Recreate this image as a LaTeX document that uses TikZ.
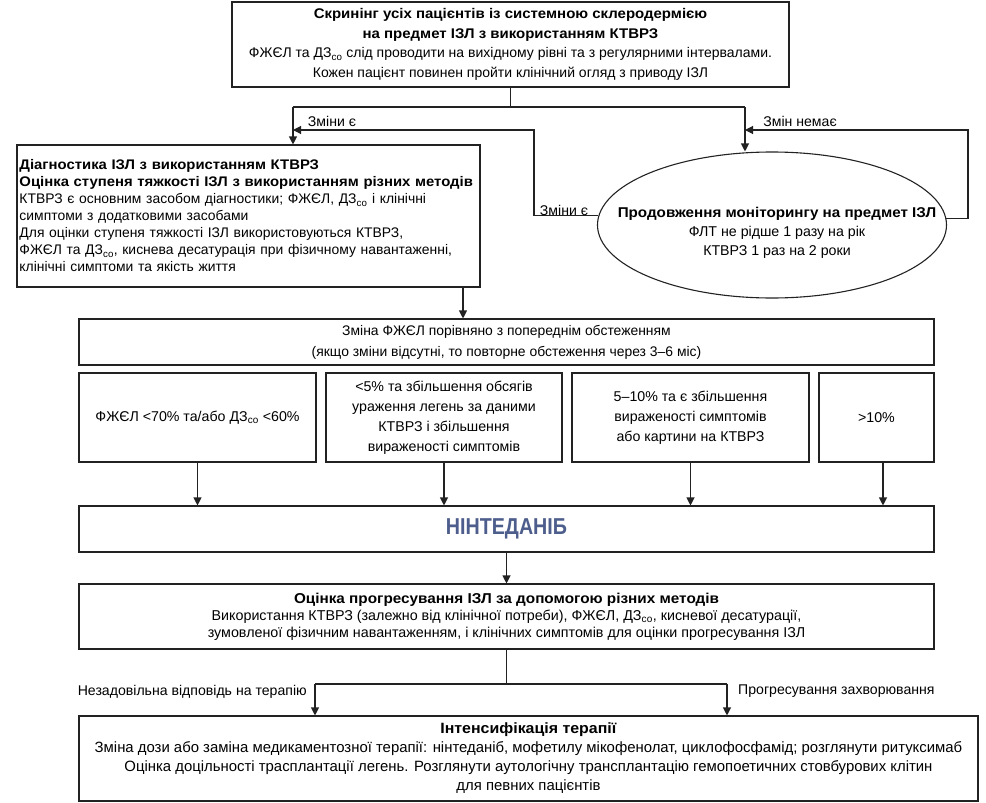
\documentclass[tikz,border=0pt]{standalone}
\usepackage{fontspec}
\setmainfont{Liberation Sans}[BoldFeatures={FakeStretch=1.07}]
\usetikzlibrary{arrows.meta,shapes.geometric}
\definecolor{nblue}{HTML}{4E5E8C}
\definecolor{edge}{HTML}{222222}
\begin{document}
\begin{tikzpicture}[x=1pt,y=-1pt,
  box/.style={draw=edge,line width=1.1pt,rectangle,inner sep=0pt,align=center,font=\fontsize{14.2}{17}\selectfont},
  arr/.style={-{Triangle[length=8pt,width=8pt]},line width=1.1pt,draw=edge},
  ln/.style={line width=1.1pt,draw=edge},
  lbl/.style={inner sep=0pt,font=\fontsize{14.1}{17}\selectfont}]
\useasboundingbox (0,0) rectangle (986,803);

% boxes
\node[box,minimum width=557pt,minimum height=85pt,font=\fontsize{14}{19.5}\selectfont] (top) at (510.5,44.5)
 {\textbf{Скринінг усіх пацієнтів із системною склеродермією}\\
  \textbf{на предмет ІЗЛ з використанням КТВРЗ}\\
  ФЖЄЛ та ДЗ\textsubscript{со} слід проводити на вихідному рівні та з регулярними інтервалами.\\
  Кожен пацієнт повинен пройти клінічний огляд з приводу ІЗЛ};

\node[box,text width=458pt,inner xsep=2.5pt,align=left,minimum height=142pt,font=\fontsize{13.9}{17}\selectfont] (diag) at (248.5,216)
 {\textbf{Діагностика ІЗЛ з використанням КТВРЗ}\\
  \textbf{Оцінка ступеня тяжкості ІЗЛ з використанням різних методів}\\
  КТВРЗ є основним засобом діагностики; ФЖЄЛ, ДЗ\textsubscript{со} і клінічні\\
  симптоми з додатковими засобами\\
  Для оцінки ступеня тяжкості ІЗЛ використовуються КТВРЗ,\\
  ФЖЄЛ та ДЗ\textsubscript{со}, киснева десатурація при фізичному навантаженні,\\
  клінічні симптоми та якість життя};

\node[draw=edge,line width=1.1pt,ellipse,inner sep=0pt,minimum width=349pt,minimum height=146pt] (ell) at (772,225) {};
\node[lbl,align=center,font=\fontsize{14.2}{19}\selectfont] (ellt) at (777,233)
 {\textbf{Продовження моніторингу на предмет ІЗЛ}\\
  ФЛТ не рідше 1 разу на рік\\
  КТВРЗ 1 раз на 2 роки};

\node[box,minimum width=855pt,minimum height=46pt,font=\fontsize{13.9}{21}\selectfont] (cmp) at (506.5,342)
 {Зміна ФЖЄЛ порівняно з попереднім обстеженням\\
  (якщо зміни відсутні, то повторне обстеження через 3–6 міс)};

\node[box,minimum width=237pt,minimum height=89pt] (c1) at (197.5,417.5)
 {ФЖЄЛ <70\% та/або ДЗ\textsubscript{со} <60\%};
\node[box,minimum width=236pt,minimum height=89pt,font=\fontsize{14.2}{20}\selectfont] (c2) at (444,417.5)
 {<5\% та збільшення обсягів\\ураження легень за даними\\КТВРЗ і збільшення\\вираженості симптомів};
\node[box,minimum width=237pt,minimum height=89pt,font=\fontsize{14.2}{20}\selectfont] (c3) at (690.5,417.5)
 {5–10\% та є збільшення\\вираженості симптомів\\або картини на КТВРЗ};
\node[box,minimum width=115pt,minimum height=89pt] (c4) at (876.5,417.5) {>10\%};

\node[box,minimum width=855pt,minimum height=46pt,text=nblue,font=\fontsize{23}{26}\selectfont] (nint) at (506.5,529)
 {\scalebox{0.8}[1]{\bfseries НІНТЕДАНІБ}};

\node[box,minimum width=855pt,minimum height=65pt,font=\fontsize{14.3}{17}\selectfont] (prog) at (506.5,616.5)
 {\textbf{Оцінка прогресування ІЗЛ за допомогою різних методів}\\
  Використання КТВРЗ (залежно від клінічної потреби), ФЖЄЛ, ДЗ\textsubscript{со}, кисневої десатурації,\\
  зумовленої фізичним навантаженням, і клінічних симптомів для оцінки прогресування ІЗЛ};

\node[box,minimum width=899pt,minimum height=85pt,font=\fontsize{14.9}{19}\selectfont] (inten) at (528.5,758.5)
 {\textbf{Інтенсифікація терапії}\\
  Зміна дози або заміна медикаментозної терапії: нінтеданіб, мофетилу мікофенолат, циклофосфамід; розглянути ритуксимаб\\
  Оцінка доцільності трасплантації легень. Розглянути аутологічну трансплантацію гемопоетичних стовбурових клітин\\
  для певних пацієнтів};

% coordinates
\coordinate (jL) at (293,107);
\coordinate (jR) at (745,107);
\coordinate (r1) at (534,130);
\coordinate (r2) at (968,130);
\coordinate (dx) at (463,0);
\coordinate (c4x) at (883,0);
\coordinate (bL) at (315,684);
\coordinate (bR) at (727,684);

% connectors
\draw[ln] (top.south) -- (top.south |- jL);
\draw[ln] (jL) -- (jR);
\draw[arr] (jL) -- (jL |- diag.north);
\draw[arr] (jR) -- (jR |- ell.north);
\draw[arr] (ell.177.4) -| (r1) -- (r1 -| jL);
\draw[arr] (ell.2.6) -| (r2) -- (r2 -| jR);
\draw[arr] (diag.south -| dx) -- (cmp.north -| dx);
\draw[arr] (c1.south) -- (c1.south |- nint.north);
\draw[arr] (c2.south) -- (c2.south |- nint.north);
\draw[arr] (c3.south) -- (c3.south |- nint.north);
\draw[arr] (c4.south -| c4x) -- (nint.north -| c4x);
\draw[arr] (nint.south) -- (prog.north);
\draw[ln] (prog.south) -- (prog.south |- bL);
\draw[ln] (bL) -- (bR);
\draw[arr] (bL) -- (bL |- inten.north);
\draw[arr] (bR) -- (bR |- inten.north);

% labels
\node[lbl] (l1) at (332,121) {Зміни є};
\node[lbl] (l2) at (800,121) {Змін немає};
\node[lbl] (l3) at (564,210) {Зміни є};
\node[lbl,anchor=east] (l4) at (307,692) {Незадовільна відповідь на терапію};
\node[lbl,anchor=west] (l5) at (738,691) {Прогресування захворювання};
\end{tikzpicture}
\end{document}
